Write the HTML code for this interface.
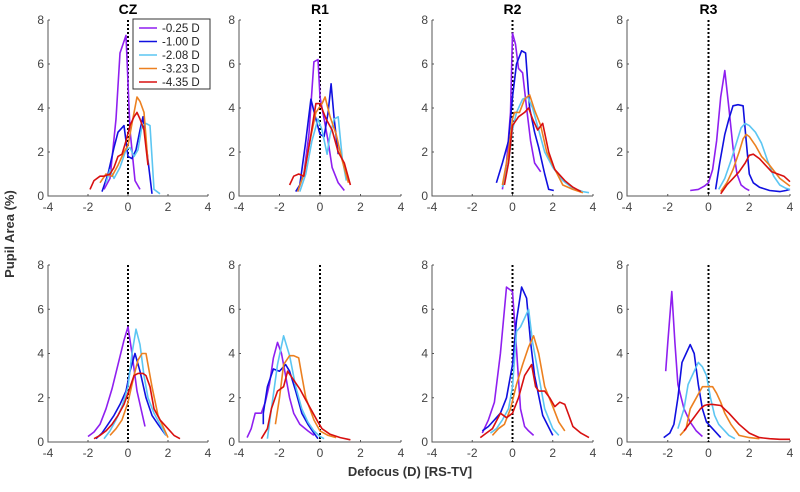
<!DOCTYPE html>
<html><head><meta charset="utf-8"><style>
body{margin:0;background:#fff;}
svg{display:block;font-family:"Liberation Sans",Arial,sans-serif;}
</style></head><body>
<svg id="c" width="800" height="492" viewBox="0 0 800 492"></svg>
<script>
const seriesLabels=["-0.25 D","-1.00 D","-2.08 D","-3.23 D","-4.35 D"];
const seriesColors=["#8f1ff0","#1010e0","#5cc6f2","#ec8020","#d81010"];
const panelTitles=["CZ","R1","R2","R3","","","",""];
const xTicks=[-4,-2,0,2,4];
const yTicks=[0,2,4,6,8];
// panel data: [series][x array, y array]
const czTopX=[[-1.2,-0.9,-0.6,-0.4,-0.1,0.1,0.35,0.6],[-1.3,-1.0,-0.7,-0.5,-0.2,0,0.2,0.4,0.6,0.75,0.95,1.2],[-1.1,-0.9,-0.7,-0.4,-0.1,0.1,0.3,0.5,0.7,0.9,1.1,1.3,1.6],[-1.4,-1.1,-0.8,-0.5,-0.2,0,0.2,0.45,0.6,0.8,1.0],[-1.9,-1.7,-1.4,-1.2,-0.9,-0.7,-0.5,-0.3,-0.1,0.1,0.3,0.45,0.6,0.8,1.0]];
const czTopY=[[0.3,0.8,3.5,6.5,7.3,3.0,0.7,0.3],[0.2,1.0,2.2,2.9,3.2,1.8,1.7,2.1,3.0,3.6,2.0,0.1],[0.6,1.2,0.8,1.3,2.1,2.2,1.8,2.1,3.2,3.3,3.2,0.3,0.1],[0.6,1.0,0.9,1.4,2.0,2.3,3.3,4.5,4.3,3.8,1.5],[0.3,0.7,0.9,0.9,1.0,1.3,1.8,1.9,2.5,3.2,3.6,3.8,3.5,3.0,1.4]];
const r1TopX=[[-1.1,-0.8,-0.55,-0.3,-0.1,0,0.2,0.4,0.6,0.9,1.2],[-1.2,-1,-0.7,-0.45,-0.2,0,0.2,0.4,0.55,0.7,0.9],[-1.0,-0.7,-0.4,-0.1,0.1,0.35,0.5,0.7,0.9,1.1,1.3],[-1.1,-0.8,-0.5,-0.2,0.1,0.25,0.5,0.8,1.1,1.4],[-1.5,-1.3,-1.05,-0.8,-0.5,-0.2,0,0.3,0.6,0.9,1.2,1.5]];
const r1TopY=[[0.2,1,2.8,6.1,6.2,4.5,3.5,2.5,1.3,0.6,0.25],[0.2,0.5,2.5,4.4,3.5,2.8,2.7,3.8,5.1,3.5,1.9],[0.2,1.0,2.5,3.5,3.0,1.9,2.8,3.5,3.6,1.7,0.7],[0.2,1.0,2.5,3.8,4.2,4.5,3.6,2.8,1.6,0.6],[0.5,0.9,1.0,0.9,2.5,4.2,4.2,3.5,3.0,2.0,1.5,0.5]];
const r2TopX=[[-0.5,-0.3,-0.1,0,0.15,0.3,0.5,0.7,0.9,1.1,1.4],[-0.8,-0.5,-0.2,0,0.2,0.45,0.65,0.85,1.1,1.3,1.6,1.8,2.05],[-0.5,-0.2,0,0.2,0.5,0.75,1,1.3,1.6,2.0,2.5,3.0,3.5,3.8],[-0.5,-0.2,0,0.1,0.35,0.6,0.85,1.1,1.4,1.7,2.0,2.5,3.0,3.5],[-0.4,-0.2,0,0.3,0.6,0.8,1,1.25,1.5,1.8,2.1,2.6,3.0,3.4]];
const r2TopY=[[0.3,1.5,3.8,7.4,6.9,5.8,5.6,4,2.5,1.5,1.1],[0.6,1.5,2.5,4.5,6.0,6.6,6.5,4.0,2.9,2.2,1.0,0.3,0.25],[0.4,1.5,3.0,3.8,4.4,4.5,4.0,3.0,2.0,1.3,0.7,0.35,0.2,0.15],[0.5,2,3.5,3.8,3.8,4.4,4.6,3.9,3.2,2.0,1.4,0.5,0.3,0.15],[0.5,1.5,3.2,3.6,3.8,4.0,3.5,3.0,3.3,2.0,1.2,0.7,0.4,0.2]];
const r3TopX=[[-0.9,-0.5,-0.2,0,0.2,0.4,0.6,0.8,1.0,1.2,1.4,1.6,1.8,2.0],[0.35,0.55,0.8,1.0,1.2,1.45,1.7,1.85,2.0,2.2,2.5,3,3.5,3.8,4],[0.5,0.8,1.1,1.4,1.6,1.8,2.0,2.3,2.6,2.9,3.2,3.5,3.8,4],[0.6,0.9,1.2,1.5,1.7,1.85,2.0,2.3,2.6,3.0,3.5,4],[0.6,0.9,1.2,1.5,1.8,2.0,2.2,2.5,2.8,3.1,3.4,3.7,4]];
const r3TopY=[[0.25,0.3,0.45,0.6,1.2,2.5,4.5,5.7,4.0,2.2,1.0,0.5,0.35,0.25],[0.3,1.5,2.8,3.5,4.1,4.15,4.1,2.5,1.0,0.6,0.4,0.25,0.2,0.25,0.3],[0.3,0.8,1.6,2.5,3.1,3.3,3.2,2.9,2.4,1.6,0.9,0.5,0.35,0.3],[0.2,0.6,1.2,2.0,2.6,2.8,2.7,2.3,1.8,1.4,0.8,0.45],[0.1,0.5,0.8,1.1,1.5,1.85,1.9,1.7,1.4,1.1,1.0,0.9,0.65]];
const czBotX=[[-2.0,-1.7,-1.4,-1.1,-0.8,-0.5,-0.2,0,0.2,0.45,0.85],[-1.6,-1.3,-1.0,-0.7,-0.4,-0.1,0.1,0.35,0.6,0.9,1.2,1.5,1.9],[-1.2,-0.9,-0.6,-0.3,0,0.2,0.4,0.6,0.8,1.0,1.3,1.6,1.9],[-0.9,-0.6,-0.3,0,0.3,0.5,0.7,0.9,1.0,1.2,1.5,1.8,2.0],[-1.7,-1.4,-1.1,-0.8,-0.5,-0.2,0,0.3,0.5,0.75,0.9,1.1,1.3,1.6,2.0,2.3,2.6]];
const czBotY=[[0.25,0.45,0.8,1.5,2.4,3.5,4.6,5.2,4.0,2.3,0.7],[0.15,0.4,0.8,1.2,1.7,2.3,3.2,4.0,3.2,2.0,1.2,0.8,0.3],[0.15,0.5,1.0,1.6,2.5,4.0,5.1,4.4,3.0,2.0,1.3,0.8,0.3],[0.3,0.6,1.0,1.8,3.0,3.7,4.0,4.0,3.5,2.5,1.2,0.6,0.2],[0.15,0.3,0.5,0.8,1.2,1.7,2.2,3.0,3.1,3.1,3.0,2.5,1.5,1.0,0.6,0.3,0.15]];
const r1BotX=[[-3.6,-3.4,-3.2,-2.9,-2.7,-2.5,-2.3,-2.1,-1.9,-1.7,-1.5,-1.3,-1.0,-0.6,-0.3],[-2.8,-2.8,-2.6,-2.3,-2.0,-1.7,-1.5,-1.2,-0.9,-0.6,-0.3,-0.1],[-2.6,-2.4,-2.1,-1.8,-1.5,-1.2,-0.9,-0.6,-0.3,0,0.2],[-2.2,-2.0,-1.8,-1.5,-1.3,-1.05,-0.9,-0.7,-0.5,-0.3,0,0.4,0.8],[-2.9,-2.6,-2.4,-2.1,-1.8,-1.6,-1.3,-1.0,-0.7,-0.4,-0.1,0.1,0.5,1.0,1.5]];
const r1BotY=[[0.2,0.6,1.3,1.3,1.8,2.6,3.8,4.5,4.0,3.0,2.0,1.3,0.8,0.5,0.3],[0.8,1.3,2.5,3.3,3.2,3.5,3.2,2.3,1.3,0.8,0.4,0.15],[0.15,1.5,3.5,4.8,3.9,2.5,1.5,0.9,0.5,0.25,0.15],[0.8,2.0,3.5,3.9,3.9,3.8,3.0,2.0,1.5,1.0,0.5,0.3,0.2],[0.15,0.6,1.5,2.3,2.5,3.2,2.8,2.4,1.9,1.4,0.9,0.6,0.35,0.2,0.1]];
const r2BotX=[[-1.5,-1.2,-0.9,-0.6,-0.3,0,0.2,0.4,0.6,0.8,1.05],[-1.5,-1.2,-0.9,-0.6,-0.3,0,0.2,0.45,0.7,0.9,1.1,1.5,2.0],[-1.1,-0.8,-0.5,-0.2,0,0.2,0.4,0.6,0.8,1.0,1.3,1.6,2.0,2.3],[-1.0,-0.7,-0.4,-0.1,0.2,0.5,0.8,1.05,1.3,1.6,2.0,2.3,2.6],[-1.6,-1.3,-1.0,-0.6,-0.3,0,0.3,0.6,0.95,1.15,1.3,1.6,1.85,2.1,2.35,2.6,2.8,3.0,3.4,3.8]];
const r2BotY=[[0.4,1.0,1.8,4.0,7.0,6.8,4.2,1.5,0.7,0.5,0.3],[0.5,0.7,1.0,1.3,2.0,3.5,5.5,7.0,6.5,4.5,3.0,1.2,0.3],[0.4,0.6,1.0,1.5,2.5,5.0,5.2,5.6,6.0,4.5,3.0,1.5,0.6,0.3],[0.3,0.6,0.8,1.5,2.6,3.5,4.3,4.8,4.0,2.5,1.6,0.9,0.5],[0.2,0.4,0.6,1.3,1.1,1.3,2.0,3.0,3.5,2.5,2.3,2.3,2.0,1.6,1.8,1.7,1.2,0.7,0.4,0.2]];
const r3BotX=[[-2.1,-2.0,-1.8,-1.65,-1.5,-1.2,-0.9,-0.6,-0.3],[-2.2,-1.9,-1.7,-1.5,-1.3,-1.1,-0.9,-0.7,-0.5,-0.3,-0.1,0.2,0.6],[-1.5,-1.2,-1.0,-0.8,-0.5,-0.3,-0.1,0.1,0.3,0.5,0.8,1.0,1.3],[-1.4,-1.1,-0.9,-0.6,-0.3,0,0.2,0.4,0.6,0.8,1.1,1.5,2.0,2.5],[-1.2,-0.8,-0.4,-0.2,0,0.2,0.6,1.0,1.5,2.0,2.5,3.0,3.5,4.0]];
const r3BotY=[[3.2,4.5,6.8,4.5,2.6,1.5,0.9,0.5,0.25],[0.2,0.4,0.8,2.0,3.6,4.0,4.4,4.0,2.6,1.5,0.9,0.6,0.2],[0.6,1.5,2.6,3.0,3.6,3.4,3.0,2.0,1.2,0.8,0.5,0.3,0.15],[0.3,0.6,1.5,2.0,2.5,2.5,2.5,2.2,1.8,1.3,0.8,0.3,0.2,0.15],[0.5,1.0,1.5,1.65,1.7,1.7,1.65,1.3,0.8,0.4,0.2,0.15,0.12,0.12]];
const panelXs=[czTopX,r1TopX,r2TopX,r3TopX,czBotX,r1BotX,r2BotX,r3BotX];
const panelYs=[czTopY,r1TopY,r2TopY,r3TopY,czBotY,r1BotY,r2BotY,r3BotY];
const panelNames=["cz-top","r1-top","r2-top","r3-top","cz-bottom","r1-bottom","r2-bottom","r3-bottom"];

const NS="http://www.w3.org/2000/svg";
const svg=document.getElementById('c');
function mk(tag,attrs,parent,text){const e=document.createElementNS(NS,tag);for(const k in attrs)e.setAttribute(k,attrs[k]);if(text!==undefined)e.textContent=text;(parent||svg).appendChild(e);return e;}
const colL=[48,239,432,627],colR=[208,401,593,790];
const rowT=[20,265],rowB=[196,442];
for(let p=0;p<8;p++){
  const c=p%4,r=Math.floor(p/4);
  const x0=colL[c],x1=colR[c],yT=rowT[r],yB=rowB[r];
  const sx=v=>x0+(v+4)/8*(x1-x0);
  const sy=v=>yB-v/8*(yB-yT);
  const g=mk('g',{});
  
  
  const ax=mk('path',{d:`M${x0},${yT}V${yB}H${x1}`,fill:'none',stroke:'#555','stroke-width':1},g);
  
  xTicks.forEach(t=>{
    mk('line',{x1:sx(t),x2:sx(t),y1:yB,y2:yB-2,stroke:'#555'},g);
    const tl=mk('text',{x:sx(t),y:yB+15,'text-anchor':'middle','font-size':12,fill:'#444'},g,String(t));
    
  });
  yTicks.forEach(t=>{
    mk('line',{x1:x0,x2:x0+2,y1:sy(t),y2:sy(t),stroke:'#555'},g);
    const tl=mk('text',{x:x0-4,y:sy(t)+4,'text-anchor':'end','font-size':12,fill:'#444'},g,String(t));
    
  });
  const zl=mk('line',{x1:sx(0),x2:sx(0),y1:yT,y2:yB,stroke:'#000','stroke-width':2,'stroke-dasharray':'2,2'},g);
  
  for(let s=0;s<5;s++){
    const xs=panelXs[p][s],ys=panelYs[p][s];
    const d=xs.map((v,i)=>(i?'L':'M')+sx(v).toFixed(1)+','+sy(ys[i]).toFixed(1)).join('');
    const ln=mk('path',{d:d,fill:'none',stroke:seriesColors[s],'stroke-width':1.6,'stroke-linejoin':'round'},g);
    
  }
  if(panelTitles[p]){
    const t=mk('text',{x:sx(0),y:yT-6,'text-anchor':'middle','font-size':14,'font-weight':'bold',fill:'#000'},g,panelTitles[p]);
    
  }
}
// legend
const lg=mk('g',{});


mk('rect',{x:133,y:19,width:77,height:70,fill:'#fff',stroke:'#333','stroke-width':1},lg);
seriesLabels.forEach((l,i)=>{
  const y=28+i*13.5;
  const e=mk('g',{},lg);
  
  
  mk('line',{x1:139,x2:157,y1:y,y2:y,stroke:seriesColors[i],'stroke-width':1.6},e);
  mk('text',{x:162,y:y+4,'font-size':11.5,fill:'#222'},e,l);
});
const yl=mk('text',{x:14,y:234,transform:'rotate(-90 14 234)','text-anchor':'middle','font-size':13,'font-weight':'bold',fill:'#333'},svg,'Pupil Area (%)');

const xl=mk('text',{x:410,y:476,'text-anchor':'middle','font-size':13,'font-weight':'bold',fill:'#333'},svg,'Defocus (D) [RS-TV]');

</script>
</body></html>
